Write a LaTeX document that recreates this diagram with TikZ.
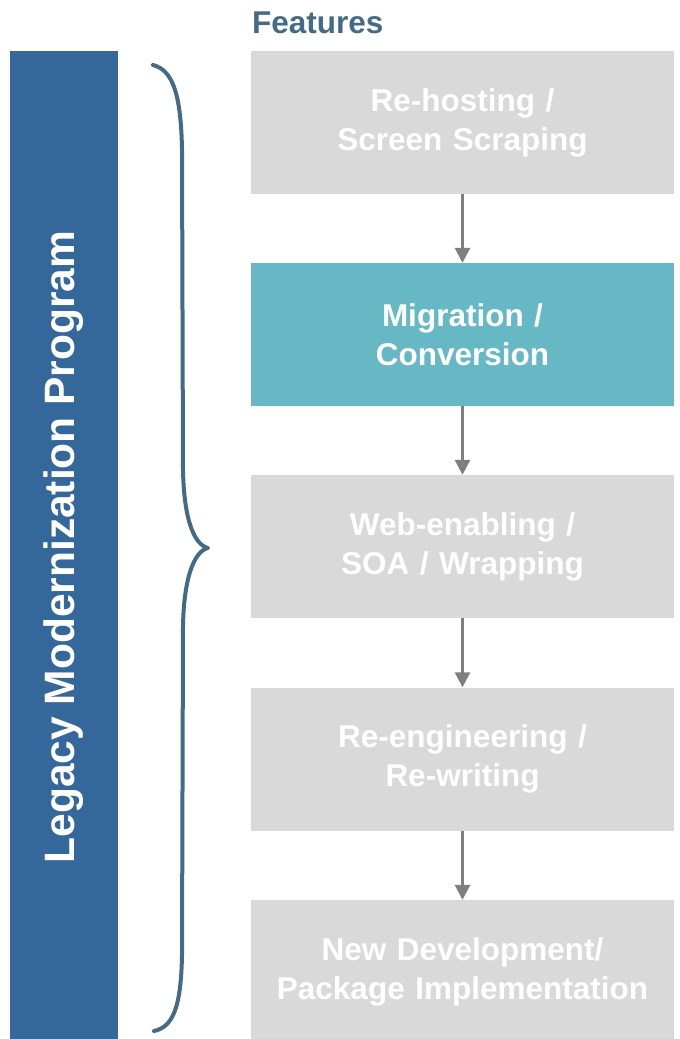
\documentclass[tikz,border=0pt]{standalone}
\usepackage{fontspec}
\setmainfont{Liberation Sans}
\usetikzlibrary{arrows.meta}
\definecolor{barblue}{HTML}{34679A}
\definecolor{slate}{HTML}{456A85}
\definecolor{boxgray}{HTML}{D9D9D9}
\definecolor{teal}{HTML}{66B8C4}
\definecolor{arrowgray}{HTML}{7F7F7F}
\begin{document}
\begin{tikzpicture}[x=1pt,y=-1pt,
  featbox/.style={rectangle, fill=boxgray, minimum width=423pt, minimum height=143pt,
    inner sep=0pt, text width=423pt, align=center, text=white,
    font=\bfseries\fontsize{31.5}{39}\selectfont},
  flowarrow/.style={draw=arrowgray, line width=3pt, -{Triangle[width=15pt,length=15pt]}},
  bracestyle/.style={draw=slate, line width=4pt, line cap=round, line join=round}
]
\clip (0,0) rectangle (680,1039);
\useasboundingbox (0,0) rectangle (680,1039);

\node[anchor=base west, text=slate, font=\bfseries\fontsize{31.5}{36}\selectfont, inner sep=0pt] (feat) at (252,33) {Features};

\fill[barblue] (10,51) rectangle (118,1045);
\node[rotate=90, text=white, font=\bfseries\fontsize{42.5}{48}\selectfont, inner sep=0pt] (prog) at (64,547) {Legacy Modernization Program};

\draw[bracestyle] (153,65) .. controls (172,70) and (181,92) .. (182,150) -- (183,470)
  .. controls (184,522) and (195,545) .. (208,548)
  .. controls (195,551) and (184,575) .. (183,626) -- (182,955)
  .. controls (181,1010) and (172,1027) .. (154,1031);

\node[featbox] (b1) at (462.5,122.5) {Re-hosting /\\Screen Scraping};
\node[featbox, fill=teal] (b2) at (462.5,334.5) {Migration /\\Conversion};
\node[featbox] (b3) at (462.5,546.5) {Web-enabling /\\SOA / Wrapping};
\node[featbox] (b4) at (462.5,759) {Re-engineering /\\Re-writing};
\node[featbox] (b5) at (462.5,971.5) {New Development/\\Package Implementation};

\draw[flowarrow] (b1.south) -- (b2.north);
\draw[flowarrow] (b2.south) -- (b3.north);
\draw[flowarrow] (b3.south) -- (b4.north);
\draw[flowarrow] (b4.south) -- (b5.north);
\end{tikzpicture}
\end{document}
